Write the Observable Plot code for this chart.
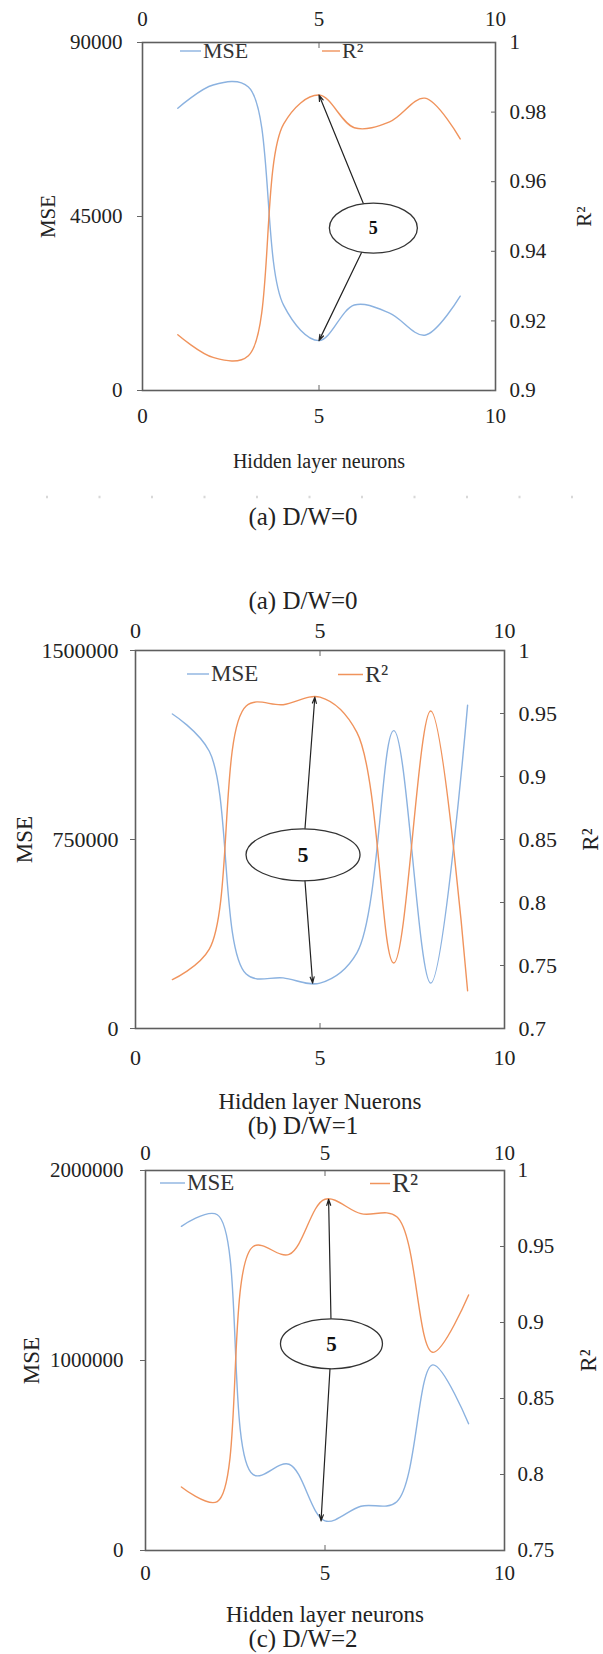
<!DOCTYPE html>
<html><head><meta charset="utf-8">
<script src="https://cdn.jsdelivr.net/npm/d3@7"></script>
<script src="https://cdn.jsdelivr.net/npm/@observablehq/plot@0.6"></script>
<style>
body{margin:0;background:#fff;}
#page{position:relative;width:603px;height:1654px;overflow:hidden;background:#fff;font-family:"Liberation Serif","Times New Roman",serif;color:#222;}
.cap{position:absolute;white-space:nowrap;transform:translate(-50%,-50%);font-size:25px;}
.leg{position:absolute;white-space:nowrap;display:flex;align-items:center;transform:translateY(-50%);color:#333;}
.chart{position:absolute;left:0;font-family:"Liberation Serif","Times New Roman",serif !important;}
.chart text, .chart g{font-family:"Liberation Serif","Times New Roman",serif !important;font-variant:normal !important;}
</style></head><body><div id="page"></div>
<script>
// ---------- data ----------
const neurons = [1, 2, 3, 4, 5, 6, 7, 8, 9];
const xTicks = [0, 5, 10];

const mseA = [73000, 79000, 78500, 22000, 12900, 22100, 20000, 14300, 24400];
const r2A  = [0.916, 0.9095, 0.910, 0.9766, 0.9849, 0.9755, 0.9772, 0.984, 0.9723];
const mseTicksA = [0, 45000, 90000];
const r2TicksA = [0.9, 0.92, 0.94, 0.96, 0.98, 1];
const r2LabelsA = ["0.9", "0.92", "0.94", "0.96", "0.98", "1"];

const mseB = [1248000, 1100000, 216000, 201000, 180000, 300000, 1182000, 180000, 1283000];
const r2B  = [0.7388, 0.763, 0.956, 0.957, 0.963, 0.935, 0.752, 0.952, 0.730];
const mseTicksB = [0, 750000, 1500000];
const r2TicksB = [0.7, 0.75, 0.8, 0.85, 0.9, 0.95, 1];
const r2LabelsB = ["0.7", "0.75", "0.8", "0.85", "0.9", "0.95", "1"];

const mseC = [1706000, 1767000, 399000, 454000, 156000, 233000, 257000, 977000, 667000];
const r2C  = [0.7918, 0.7822, 0.950, 0.9448, 0.9811, 0.9716, 0.9696, 0.8804, 0.9181];
const mseTicksC = [0, 1000000, 2000000];
const r2TicksC = [0.75, 0.8, 0.85, 0.9, 0.95, 1];
const r2LabelsC = ["0.75", "0.8", "0.85", "0.9", "0.95", "1"];

// annotation (ellipse "5" with arrows)
const bestNeurons = ["5", "5", "5"];
const ellipseX = [6.54, 4.54, 5.18];
const ellipseMSE = [42000, 689000, 1088000];
const tipXR2 = [5, 4.86, 5.1];
const tipXMSE = [5, 4.8, 4.89];

const xTitles = ["Hidden layer neurons", "Hidden layer Nuerons", "Hidden layer neurons"];
const captions = ["(a) D/W=0", "(a) D/W=0", "(b) D/W=1", "(c) D/W=2"];

// ---------- drawing ----------
const FONT = '"Liberation Serif", "Times New Roman", serif';
const BLUE = "#8bb2e0", ORANGE = "#f0935c";

function ellipseSymbol(rx, ry) {
  const k = 0.5523;
  return {draw(ctx) {
    ctx.moveTo(rx, 0);
    ctx.bezierCurveTo(rx, ry * k, rx * k, ry, 0, ry);
    ctx.bezierCurveTo(-rx * k, ry, -rx, ry * k, -rx, 0);
    ctx.bezierCurveTo(-rx, -ry * k, -rx * k, -ry, 0, -ry);
    ctx.bezierCurveTo(rx * k, -ry, rx, -ry * k, rx, 0);
    ctx.closePath();
  }};
}

function makeChart(c) {
  const mseMax = c.mseTicks[c.mseTicks.length - 1];
  const rMin = c.r2Ticks[0], rMax = c.r2Ticks[c.r2Ticks.length - 1];
  const toY = r => (r - rMin) / (rMax - rMin) * mseMax;
  const r2Pos = c.r2Ticks.map(toY);
  const mseRows = neurons.map((n, i) => ({n, v: c.mse[i]}));
  const r2Rows = neurons.map((n, i) => ({n, v: toY(c.r2[i])}));
  const ell = [{x: c.ellX, y: c.ellY, t: c.best}];
  const arrows = [
    {x1: c.ellX, y1: c.ellY, x2: c.tipR2X, y2: toY(c.r2[4])},
    {x1: c.ellX, y1: c.ellY, x2: c.tipMseX, y2: c.mse[4]}
  ];
  const fs = c.tickSize;
  const txt = {fontFamily: FONT, fill: "#222"};
  const svg = Plot.plot({
    width: 603, height: c.h,
    marginTop: c.mt, marginBottom: c.mb, marginLeft: c.ml, marginRight: c.mr,
    style: {background: "transparent", fontFamily: FONT, color: "#222", overflow: "visible"},
    x: {domain: [0, 10], axis: null},
    y: {domain: [0, mseMax], axis: null},
    marks: [
      Plot.line(mseRows, {x: "n", y: "v", stroke: BLUE, strokeWidth: 1.4, curve: "catmull-rom"}),
      Plot.line(r2Rows, {x: "n", y: "v", stroke: ORANGE, strokeWidth: 1.4, curve: "catmull-rom"}),
      Plot.arrow(arrows, {x1: "x1", y1: "y1", x2: "x2", y2: "y2", stroke: "#222", strokeWidth: 1.2, headLength: 8, headAngle: 36}),
      Plot.dot(ell, {x: "x", y: "y", symbol: ellipseSymbol(c.rx, c.ry), fill: "white", stroke: "#333", strokeWidth: 1.3}),
      Plot.text(ell, {x: "x", y: "y", text: "t", fontWeight: "bold", fontSize: c.fiveSize, fontFamily: FONT, fill: "#111"}),
      Plot.frame({stroke: "#5e5e5e", strokeWidth: 1.6}),
      // bottom x axis
      Plot.axisX(xTicks, {anchor: "bottom", tickSize: 0, tickPadding: c.padB, fontSize: fs, ...txt, tickFormat: d => String(d), label: null}),
      Plot.axisX([5], {anchor: "bottom", tickSize: -5, tickFormat: () => "", label: null, stroke: "#666"}),
      // top x axis
      Plot.axisX(xTicks, {anchor: "top", tickSize: 0, tickPadding: c.padT, fontSize: fs, ...txt, tickFormat: d => String(d), label: null}),
      Plot.axisX([5], {anchor: "top", tickSize: -5, tickFormat: () => "", label: null, stroke: "#666"}),
      // left MSE axis
      Plot.axisY(c.mseTicks, {anchor: "left", tickSize: 5, tickPadding: c.padL, fontSize: fs, ...txt, tickFormat: d3.format("d"), label: null, stroke: "#666"}),
      // right R2 axis
      Plot.axisY(r2Pos, {anchor: "right", tickSize: 0, tickPadding: c.padR, fontSize: fs, ...txt, tickFormat: d => c.r2Labels[r2Pos.indexOf(d)], label: null}),
      Plot.axisY(r2Pos, {anchor: "right", tickSize: -5, tickFormat: () => "", label: null, stroke: "#666"}),
      // axis titles
      Plot.axisX([], {anchor: "bottom", tickSize: 0, label: c.xTitle, labelAnchor: "center", labelArrow: false, labelOffset: c.xLabOff, fontSize: c.xLabSize, ...txt}),
      Plot.axisY([], {anchor: "left", tickSize: 0, label: "MSE", labelAnchor: "center", labelArrow: false, labelOffset: c.mseLabOff, fontSize: c.yLabSize, ...txt}),
      Plot.axisY([], {anchor: "right", tickSize: 0, label: "R²", labelAnchor: "center", labelArrow: false, labelOffset: c.r2LabOff, fontSize: c.yLabSize, ...txt})
    ]
  });
  svg.classList.add("chart");
  svg.style.top = c.top + "px";
  return svg;
}

const page = document.getElementById("page");

const charts = [
  {top: 0, h: 480, mt: 42, mb: 90, ml: 142, mr: 108, mse: mseA, r2: r2A, mseTicks: mseTicksA, r2Ticks: r2TicksA, r2Labels: r2LabelsA,
   tickSize: 21, padB: 18, padT: 17, padL: 15, padR: 14, xTitle: xTitles[0], xLabOff: 77, xLabSize: 20, yLabSize: 21, mseLabOff: 102, r2LabOff: 95,
   best: bestNeurons[0], ellX: ellipseX[0], ellY: ellipseMSE[0], tipR2X: tipXR2[0], tipMseX: tipXMSE[0], rx: 44, ry: 25, fiveSize: 18},
  {top: 600, h: 520, mt: 50, mb: 92, ml: 135, mr: 99, mse: mseB, r2: r2B, mseTicks: mseTicksB, r2Ticks: r2TicksB, r2Labels: r2LabelsB,
   tickSize: 22, padB: 21, padT: 13, padL: 12, padR: 14, xTitle: xTitles[1], xLabOff: 80, xLabSize: 23, yLabSize: 23, mseLabOff: 120, r2LabOff: 93,
   best: bestNeurons[1], ellX: ellipseX[1], ellY: ellipseMSE[1], tipR2X: tipXR2[1], tipMseX: tipXMSE[1], rx: 57, ry: 26, fiveSize: 22},
  {top: 1130, h: 500, mt: 40, mb: 80, ml: 145, mr: 99, mse: mseC, r2: r2C, mseTicks: mseTicksC, r2Ticks: r2TicksC, r2Labels: r2LabelsC,
   tickSize: 21, padB: 15, padT: 11, padL: 17, padR: 13, xTitle: xTitles[2], xLabOff: 71, xLabSize: 23, yLabSize: 23, mseLabOff: 123, r2LabOff: 91,
   best: bestNeurons[2], ellX: ellipseX[2], ellY: ellipseMSE[2], tipR2X: tipXR2[2], tipMseX: tipXMSE[2], rx: 51, ry: 25, fiveSize: 21}
];
charts.forEach(c => page.appendChild(makeChart(c)));

// legends (placed over each plot frame)
function legendItem(left, cy, w, color, label, size) {
  const d = document.createElement("div");
  d.className = "leg";
  d.style.left = left + "px";
  d.style.top = cy + "px";
  d.style.fontSize = size + "px";
  d.innerHTML = `<svg width="${w}" height="4" style="margin-right:2px"><line x1="0" y1="2" x2="${w}" y2="2" stroke="${color}" stroke-width="1.4"/></svg><span>${label}</span>`;
  page.appendChild(d);
}
legendItem(180, 51, 21, BLUE, "MSE", 22);
legendItem(322, 51, 18, ORANGE, "R²", 22);
legendItem(187, 674, 22, BLUE, "MSE", 23);
legendItem(338, 674, 25, ORANGE, "R²", 24);
legendItem(160, 1183, 25, BLUE, "MSE", 23);
legendItem(370, 1183, 20, ORANGE, "R²", 27);

// faint dotted separator
const sep = document.createElementNS("http://www.w3.org/2000/svg", "svg");
sep.setAttribute("width", 603); sep.setAttribute("height", 6);
sep.style.position = "absolute"; sep.style.left = "0px"; sep.style.top = "494px";
sep.innerHTML = '<line x1="46" y1="3" x2="600" y2="3" stroke="#d8d8d8" stroke-width="2.5" stroke-dasharray="2 50.5"/>';
page.appendChild(sep);

// captions
const capPos = [[303, 517], [303, 601], [303, 1126], [303, 1639]];
captions.forEach((t, i) => {
  const d = document.createElement("div");
  d.className = "cap";
  d.style.left = capPos[i][0] + "px";
  d.style.top = capPos[i][1] + "px";
  d.textContent = t;
  page.appendChild(d);
});
</script></body></html>
